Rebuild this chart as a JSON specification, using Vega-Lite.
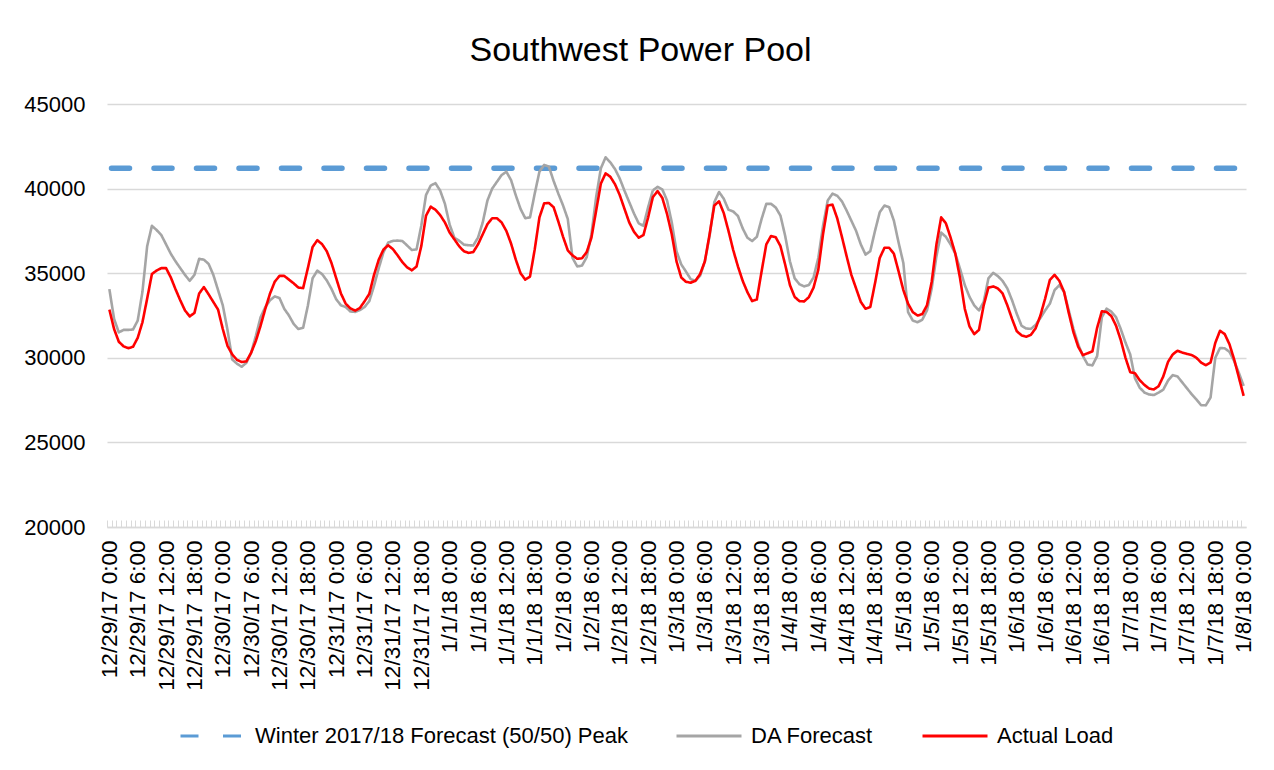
{
  "$schema": "https://vega.github.io/schema/vega-lite/v6.json",
  "width": 1139,
  "height": 423,
  "autosize": "none",
  "padding": {"left": 107, "top": 104, "right": 28, "bottom": 243},
  "background": "white",
  "config": {
    "font": "Liberation Sans",
    "view": {"stroke": null}
  },
  "title": {
    "text": "Southwest Power Pool",
    "fontSize": 34,
    "fontWeight": "normal",
    "color": "#000000",
    "anchor": "middle",
    "offset": 25,
    "dx": -36
  },
  "data": {"values": [
{"t":"2017-12-29T00:00","g":34060,"r":32850},
{"t":"2017-12-29T01:00","g":32300,"r":31700},
{"t":"2017-12-29T02:00","g":31500,"r":30950},
{"t":"2017-12-29T03:00","g":31650,"r":30680},
{"t":"2017-12-29T04:00","g":31650,"r":30570},
{"t":"2017-12-29T05:00","g":31670,"r":30650},
{"t":"2017-12-29T06:00","g":32200,"r":31180},
{"t":"2017-12-29T07:00","g":33900,"r":32100},
{"t":"2017-12-29T08:00","g":36600,"r":33500},
{"t":"2017-12-29T09:00","g":37800,"r":34950},
{"t":"2017-12-29T10:00","g":37550,"r":35160},
{"t":"2017-12-29T11:00","g":37250,"r":35300},
{"t":"2017-12-29T12:00","g":36700,"r":35300},
{"t":"2017-12-29T13:00","g":36150,"r":34750},
{"t":"2017-12-29T14:00","g":35700,"r":34050},
{"t":"2017-12-29T15:00","g":35300,"r":33400},
{"t":"2017-12-29T16:00","g":34900,"r":32800},
{"t":"2017-12-29T17:00","g":34550,"r":32450},
{"t":"2017-12-29T18:00","g":34900,"r":32650},
{"t":"2017-12-29T19:00","g":35850,"r":33800},
{"t":"2017-12-29T20:00","g":35800,"r":34180},
{"t":"2017-12-29T21:00","g":35550,"r":33750},
{"t":"2017-12-29T22:00","g":34900,"r":33300},
{"t":"2017-12-29T23:00","g":34000,"r":32850},
{"t":"2017-12-30T00:00","g":33100,"r":31700},
{"t":"2017-12-30T01:00","g":31640,"r":30700},
{"t":"2017-12-30T02:00","g":29900,"r":30200},
{"t":"2017-12-30T03:00","g":29650,"r":29880},
{"t":"2017-12-30T04:00","g":29470,"r":29750},
{"t":"2017-12-30T05:00","g":29710,"r":29790},
{"t":"2017-12-30T06:00","g":30300,"r":30300},
{"t":"2017-12-30T07:00","g":31300,"r":31000},
{"t":"2017-12-30T08:00","g":32400,"r":31900},
{"t":"2017-12-30T09:00","g":33000,"r":32900},
{"t":"2017-12-30T10:00","g":33400,"r":33800},
{"t":"2017-12-30T11:00","g":33630,"r":34500},
{"t":"2017-12-30T12:00","g":33530,"r":34840},
{"t":"2017-12-30T13:00","g":32900,"r":34840},
{"t":"2017-12-30T14:00","g":32500,"r":34620},
{"t":"2017-12-30T15:00","g":32000,"r":34400},
{"t":"2017-12-30T16:00","g":31700,"r":34150},
{"t":"2017-12-30T17:00","g":31770,"r":34120},
{"t":"2017-12-30T18:00","g":33080,"r":35300},
{"t":"2017-12-30T19:00","g":34700,"r":36550},
{"t":"2017-12-30T20:00","g":35150,"r":36950},
{"t":"2017-12-30T21:00","g":34950,"r":36720},
{"t":"2017-12-30T22:00","g":34570,"r":36300},
{"t":"2017-12-30T23:00","g":34070,"r":35600},
{"t":"2017-12-31T00:00","g":33460,"r":34700},
{"t":"2017-12-31T01:00","g":33100,"r":33800},
{"t":"2017-12-31T02:00","g":33000,"r":33200},
{"t":"2017-12-31T03:00","g":32740,"r":32920},
{"t":"2017-12-31T04:00","g":32710,"r":32790},
{"t":"2017-12-31T05:00","g":32820,"r":32940},
{"t":"2017-12-31T06:00","g":33000,"r":33340},
{"t":"2017-12-31T07:00","g":33350,"r":33780},
{"t":"2017-12-31T08:00","g":34250,"r":34900},
{"t":"2017-12-31T09:00","g":35300,"r":35800},
{"t":"2017-12-31T10:00","g":36240,"r":36400},
{"t":"2017-12-31T11:00","g":36810,"r":36650},
{"t":"2017-12-31T12:00","g":36910,"r":36420},
{"t":"2017-12-31T13:00","g":36930,"r":36050},
{"t":"2017-12-31T14:00","g":36900,"r":35650},
{"t":"2017-12-31T15:00","g":36640,"r":35350},
{"t":"2017-12-31T16:00","g":36370,"r":35170},
{"t":"2017-12-31T17:00","g":36410,"r":35400},
{"t":"2017-12-31T18:00","g":37810,"r":36600},
{"t":"2017-12-31T19:00","g":39620,"r":38400},
{"t":"2017-12-31T20:00","g":40180,"r":38930},
{"t":"2017-12-31T21:00","g":40320,"r":38750},
{"t":"2017-12-31T22:00","g":39880,"r":38430},
{"t":"2017-12-31T23:00","g":39100,"r":38000},
{"t":"2018-01-01T00:00","g":37870,"r":37400},
{"t":"2018-01-01T01:00","g":37100,"r":37000},
{"t":"2018-01-01T02:00","g":36920,"r":36600},
{"t":"2018-01-01T03:00","g":36690,"r":36300},
{"t":"2018-01-01T04:00","g":36650,"r":36200},
{"t":"2018-01-01T05:00","g":36640,"r":36250},
{"t":"2018-01-01T06:00","g":37100,"r":36700},
{"t":"2018-01-01T07:00","g":38000,"r":37300},
{"t":"2018-01-01T08:00","g":39300,"r":37900},
{"t":"2018-01-01T09:00","g":40000,"r":38250},
{"t":"2018-01-01T10:00","g":40400,"r":38250},
{"t":"2018-01-01T11:00","g":40800,"r":38000},
{"t":"2018-01-01T12:00","g":41000,"r":37500},
{"t":"2018-01-01T13:00","g":40500,"r":36750},
{"t":"2018-01-01T14:00","g":39600,"r":35800},
{"t":"2018-01-01T15:00","g":38800,"r":35000},
{"t":"2018-01-01T16:00","g":38250,"r":34620},
{"t":"2018-01-01T17:00","g":38300,"r":34800},
{"t":"2018-01-01T18:00","g":39700,"r":36400},
{"t":"2018-01-01T19:00","g":41000,"r":38300},
{"t":"2018-01-01T20:00","g":41400,"r":39130},
{"t":"2018-01-01T21:00","g":41300,"r":39150},
{"t":"2018-01-01T22:00","g":40450,"r":38900},
{"t":"2018-01-01T23:00","g":39700,"r":38050},
{"t":"2018-01-02T00:00","g":39000,"r":37150},
{"t":"2018-01-02T01:00","g":38200,"r":36350},
{"t":"2018-01-02T02:00","g":35900,"r":36050},
{"t":"2018-01-02T03:00","g":35400,"r":35850},
{"t":"2018-01-02T04:00","g":35450,"r":35880},
{"t":"2018-01-02T05:00","g":35950,"r":36250},
{"t":"2018-01-02T06:00","g":37300,"r":37100},
{"t":"2018-01-02T07:00","g":39500,"r":38700},
{"t":"2018-01-02T08:00","g":41200,"r":40300},
{"t":"2018-01-02T09:00","g":41850,"r":40900},
{"t":"2018-01-02T10:00","g":41550,"r":40700},
{"t":"2018-01-02T11:00","g":41150,"r":40250},
{"t":"2018-01-02T12:00","g":40590,"r":39610},
{"t":"2018-01-02T13:00","g":39870,"r":38800},
{"t":"2018-01-02T14:00","g":39200,"r":38000},
{"t":"2018-01-02T15:00","g":38530,"r":37450},
{"t":"2018-01-02T16:00","g":37950,"r":37100},
{"t":"2018-01-02T17:00","g":37800,"r":37250},
{"t":"2018-01-02T18:00","g":38900,"r":38300},
{"t":"2018-01-02T19:00","g":39900,"r":39500},
{"t":"2018-01-02T20:00","g":40100,"r":39850},
{"t":"2018-01-02T21:00","g":39950,"r":39450},
{"t":"2018-01-02T22:00","g":39300,"r":38500},
{"t":"2018-01-02T23:00","g":38000,"r":37300},
{"t":"2018-01-03T00:00","g":36300,"r":35700},
{"t":"2018-01-03T01:00","g":35520,"r":34750},
{"t":"2018-01-03T02:00","g":35100,"r":34490},
{"t":"2018-01-03T03:00","g":34650,"r":34440},
{"t":"2018-01-03T04:00","g":34550,"r":34550},
{"t":"2018-01-03T05:00","g":34850,"r":34950},
{"t":"2018-01-03T06:00","g":35700,"r":35700},
{"t":"2018-01-03T07:00","g":37200,"r":37300},
{"t":"2018-01-03T08:00","g":39200,"r":39000},
{"t":"2018-01-03T09:00","g":39800,"r":39250},
{"t":"2018-01-03T10:00","g":39400,"r":38550},
{"t":"2018-01-03T11:00","g":38750,"r":37500},
{"t":"2018-01-03T12:00","g":38650,"r":36370},
{"t":"2018-01-03T13:00","g":38380,"r":35400},
{"t":"2018-01-03T14:00","g":37650,"r":34550},
{"t":"2018-01-03T15:00","g":37100,"r":33880},
{"t":"2018-01-03T16:00","g":36900,"r":33350},
{"t":"2018-01-03T17:00","g":37150,"r":33450},
{"t":"2018-01-03T18:00","g":38200,"r":35100},
{"t":"2018-01-03T19:00","g":39100,"r":36700},
{"t":"2018-01-03T20:00","g":39100,"r":37200},
{"t":"2018-01-03T21:00","g":38880,"r":37120},
{"t":"2018-01-03T22:00","g":38400,"r":36600},
{"t":"2018-01-03T23:00","g":37200,"r":35500},
{"t":"2018-01-04T00:00","g":35700,"r":34300},
{"t":"2018-01-04T01:00","g":34700,"r":33600},
{"t":"2018-01-04T02:00","g":34350,"r":33350},
{"t":"2018-01-04T03:00","g":34220,"r":33330},
{"t":"2018-01-04T04:00","g":34300,"r":33580},
{"t":"2018-01-04T05:00","g":34750,"r":34150},
{"t":"2018-01-04T06:00","g":35900,"r":35200},
{"t":"2018-01-04T07:00","g":37800,"r":37300},
{"t":"2018-01-04T08:00","g":39300,"r":39000},
{"t":"2018-01-04T09:00","g":39700,"r":39050},
{"t":"2018-01-04T10:00","g":39580,"r":38250},
{"t":"2018-01-04T11:00","g":39250,"r":37150},
{"t":"2018-01-04T12:00","g":38700,"r":36000},
{"t":"2018-01-04T13:00","g":38100,"r":34900},
{"t":"2018-01-04T14:00","g":37500,"r":34100},
{"t":"2018-01-04T15:00","g":36700,"r":33300},
{"t":"2018-01-04T16:00","g":36100,"r":32900},
{"t":"2018-01-04T17:00","g":36300,"r":33000},
{"t":"2018-01-04T18:00","g":37500,"r":34400},
{"t":"2018-01-04T19:00","g":38600,"r":35900},
{"t":"2018-01-04T20:00","g":39000,"r":36500},
{"t":"2018-01-04T21:00","g":38900,"r":36500},
{"t":"2018-01-04T22:00","g":38100,"r":36150},
{"t":"2018-01-04T23:00","g":36800,"r":35100},
{"t":"2018-01-05T00:00","g":35600,"r":34000},
{"t":"2018-01-05T01:00","g":32700,"r":33200},
{"t":"2018-01-05T02:00","g":32200,"r":32700},
{"t":"2018-01-05T03:00","g":32100,"r":32500},
{"t":"2018-01-05T04:00","g":32250,"r":32580},
{"t":"2018-01-05T05:00","g":32800,"r":33100},
{"t":"2018-01-05T06:00","g":34100,"r":34500},
{"t":"2018-01-05T07:00","g":36000,"r":36700},
{"t":"2018-01-05T08:00","g":37400,"r":38300},
{"t":"2018-01-05T09:00","g":37150,"r":37950},
{"t":"2018-01-05T10:00","g":36700,"r":37100},
{"t":"2018-01-05T11:00","g":36150,"r":36150},
{"t":"2018-01-05T12:00","g":35250,"r":34700},
{"t":"2018-01-05T13:00","g":34300,"r":32900},
{"t":"2018-01-05T14:00","g":33600,"r":31850},
{"t":"2018-01-05T15:00","g":33100,"r":31400},
{"t":"2018-01-05T16:00","g":32800,"r":31650},
{"t":"2018-01-05T17:00","g":33300,"r":33100},
{"t":"2018-01-05T18:00","g":34700,"r":34150},
{"t":"2018-01-05T19:00","g":35020,"r":34220},
{"t":"2018-01-05T20:00","g":34830,"r":34100},
{"t":"2018-01-05T21:00","g":34540,"r":33800},
{"t":"2018-01-05T22:00","g":34100,"r":33100},
{"t":"2018-01-05T23:00","g":33400,"r":32300},
{"t":"2018-01-06T00:00","g":32600,"r":31570},
{"t":"2018-01-06T01:00","g":31900,"r":31330},
{"t":"2018-01-06T02:00","g":31730,"r":31240},
{"t":"2018-01-06T03:00","g":31710,"r":31360},
{"t":"2018-01-06T04:00","g":31950,"r":31750},
{"t":"2018-01-06T05:00","g":32350,"r":32500},
{"t":"2018-01-06T06:00","g":32800,"r":33500},
{"t":"2018-01-06T07:00","g":33200,"r":34600},
{"t":"2018-01-06T08:00","g":34000,"r":34900},
{"t":"2018-01-06T09:00","g":34300,"r":34550},
{"t":"2018-01-06T10:00","g":33900,"r":33900},
{"t":"2018-01-06T11:00","g":32800,"r":32650},
{"t":"2018-01-06T12:00","g":31700,"r":31500},
{"t":"2018-01-06T13:00","g":30800,"r":30650},
{"t":"2018-01-06T14:00","g":30100,"r":30160},
{"t":"2018-01-06T15:00","g":29600,"r":30270},
{"t":"2018-01-06T16:00","g":29550,"r":30380},
{"t":"2018-01-06T17:00","g":30100,"r":31770},
{"t":"2018-01-06T18:00","g":32400,"r":32750},
{"t":"2018-01-06T19:00","g":32900,"r":32710},
{"t":"2018-01-06T20:00","g":32730,"r":32470},
{"t":"2018-01-06T21:00","g":32400,"r":31900},
{"t":"2018-01-06T22:00","g":31700,"r":31050},
{"t":"2018-01-06T23:00","g":30900,"r":30000},
{"t":"2018-01-07T00:00","g":30200,"r":29150},
{"t":"2018-01-07T01:00","g":28800,"r":29090},
{"t":"2018-01-07T02:00","g":28240,"r":28680},
{"t":"2018-01-07T03:00","g":27950,"r":28400},
{"t":"2018-01-07T04:00","g":27830,"r":28180},
{"t":"2018-01-07T05:00","g":27800,"r":28130},
{"t":"2018-01-07T06:00","g":27940,"r":28320},
{"t":"2018-01-07T07:00","g":28120,"r":28900},
{"t":"2018-01-07T08:00","g":28650,"r":29760},
{"t":"2018-01-07T09:00","g":28980,"r":30200},
{"t":"2018-01-07T10:00","g":28900,"r":30420},
{"t":"2018-01-07T11:00","g":28550,"r":30310},
{"t":"2018-01-07T12:00","g":28200,"r":30230},
{"t":"2018-01-07T13:00","g":27850,"r":30160},
{"t":"2018-01-07T14:00","g":27540,"r":30000},
{"t":"2018-01-07T15:00","g":27200,"r":29720},
{"t":"2018-01-07T16:00","g":27190,"r":29560},
{"t":"2018-01-07T17:00","g":27650,"r":29720},
{"t":"2018-01-07T18:00","g":30000,"r":30880},
{"t":"2018-01-07T19:00","g":30580,"r":31600},
{"t":"2018-01-07T20:00","g":30560,"r":31400},
{"t":"2018-01-07T21:00","g":30350,"r":30800},
{"t":"2018-01-07T22:00","g":29800,"r":29900},
{"t":"2018-01-07T23:00","g":29100,"r":28830},
{"t":"2018-01-08T00:00","g":28340,"r":27750}
  ]},
  "resolve": {"axis": {"x": "independent"}},
  "layer": [
    {
      "data": {"values": [{"s": "p", "v": 41200}]},
      "mark": {"type": "rule", "strokeWidth": 5.5, "strokeCap": "round", "strokeDashOffset": 31},
      "encoding": {
        "y": {"field": "v", "type": "quantitative", "scale": {"domain": [20000, 45000], "nice": false, "zero": false}},
        "color": {"field": "s", "type": "nominal", "scale": {"domain": ["p", "g", "r"], "range": ["#5B9BD5", "#A5A5A5", "#FF0000"]}},
        "strokeDash": {"field": "s", "type": "nominal", "scale": {"domain": ["p", "g", "r"], "range": [[18, 24.5], [1, 0], [1, 0]]}}
      }
    },
    {
      "transform": [{"fold": ["g"], "as": ["s", "v"]}],
      "mark": {"type": "line", "strokeWidth": 2.6, "strokeJoin": "round"},
      "encoding": {
        "x": {
          "field": "t",
          "type": "temporal",
          "scale": {"domain": [{"year": 2017, "month": 12, "date": 28, "hours": 23, "minutes": 30}, {"year": 2018, "month": 1, "date": 8, "hours": 0, "minutes": 30}], "nice": false},
          "axis": {
            "title": null,
            "orient": "bottom",
            "grid": false,
            "domain": false,
            "labels": false,
            "ticks": true,
            "offset": -7,
            "tickColor": "#D9D9D9",
            "tickSize": 7,
            "tickWidth": 1,
            "tickOffset": -2.36,
            "tickCount": 241
          }
        },
        "y": {"field": "v", "type": "quantitative", "scale": {"domain": [20000, 45000], "nice": false, "zero": false}},
        "color": {"field": "s", "type": "nominal", "scale": {"domain": ["p", "g", "r"], "range": ["#5B9BD5", "#A5A5A5", "#FF0000"]}},
        "strokeDash": {"field": "s", "type": "nominal", "scale": {"domain": ["p", "g", "r"], "range": [[18, 24.5], [1, 0], [1, 0]]}}
      }
    },
    {
      "transform": [{"fold": ["r"], "as": ["s", "v"]}],
      "mark": {"type": "line", "strokeWidth": 2.6, "strokeJoin": "round"},
      "encoding": {
        "x": {
          "field": "t",
          "type": "temporal",
          "scale": {"domain": [{"year": 2017, "month": 12, "date": 28, "hours": 23, "minutes": 30}, {"year": 2018, "month": 1, "date": 8, "hours": 0, "minutes": 30}], "nice": false},
          "axis": {
            "title": null,
            "orient": "bottom",
            "grid": false,
            "domainColor": "#D9D9D9",
            "domainWidth": 1.5,
            "ticks": false,
            "format": "%-m/%-d/%y %-H:%M",
            "labelAngle": 270,
            "labelAlign": "right",
            "labelBaseline": "middle",
            "labelPadding": 13,
            "labelFontSize": 22.5,
            "labelColor": "#000000",
            "labelLimit": 400
          }
        },
        "y": {
          "field": "v",
          "type": "quantitative",
          "scale": {"domain": [20000, 45000], "nice": false, "zero": false},
          "axis": {
            "title": null,
            "values": [20000, 25000, 30000, 35000, 40000, 45000],
            "format": "d",
            "domain": false,
            "ticks": false,
            "grid": true,
            "gridColor": "#D9D9D9",
            "gridWidth": 1.5,
            "labelFontSize": 22,
            "labelColor": "#000000",
            "labelPadding": 22
          }
        },
        "color": {
          "field": "s",
          "type": "nominal",
          "scale": {"domain": ["p", "g", "r"], "range": ["#5B9BD5", "#A5A5A5", "#FF0000"]},
          "legend": {
            "title": null,
            "orient": "none",
            "direction": "horizontal",
            "legendX": 72,
            "legendY": 598,
            "symbolType": "stroke",
            "symbolSize": 4225,
            "symbolStrokeWidth": 3,
            "labelFontSize": 22,
            "labelColor": "#000000",
            "labelOffset": 8,
            "labelLimit": 600,
            "columnPadding": 42,
            "labelExpr": "datum.label == 'p' ? 'Winter 2017/18 Forecast (50/50) Peak' : datum.label == 'g' ? 'DA Forecast' : 'Actual Load'"
          }
        },
        "strokeDash": {"field": "s", "type": "nominal", "scale": {"domain": ["p", "g", "r"], "range": [[18, 24.5], [1, 0], [1, 0]]}}
      }
    }
  ]
}
